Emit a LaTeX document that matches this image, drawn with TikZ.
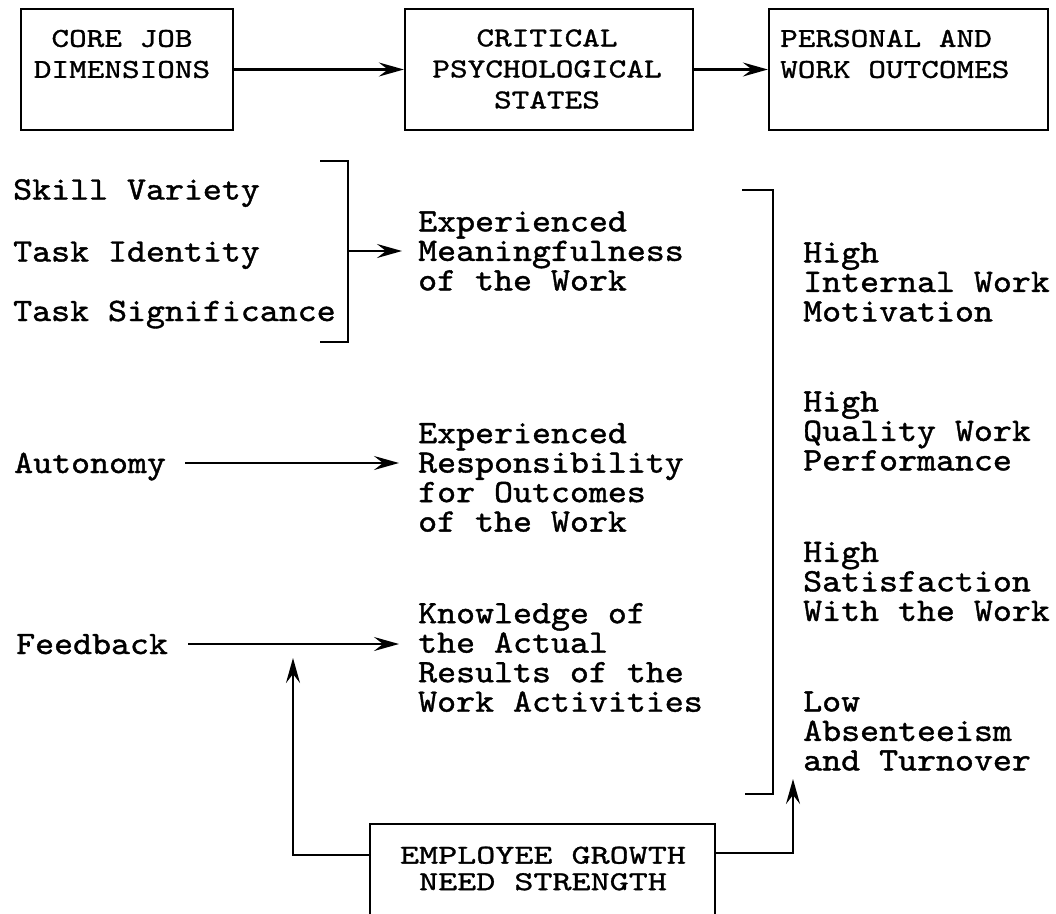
\documentclass[tikz,border=0pt]{standalone}
\usepackage{fontspec}
\usetikzlibrary{arrows.meta}
% typewriter faces, widened and darkened to a Courier-like set width and weight
\newfontfamily\txtfont{lmmono10-regular.otf}[FakeStretch=1.105,FakeBold=1.2]
\newfontfamily\capfont{lmmono10-regular.otf}[FakeStretch=1.23,FakeBold=1.1]
\newfontfamily\capfontw{lmmono10-regular.otf}[FakeStretch=1.33,FakeBold=1.1]

\tikzset{
  frame/.style={draw, line width=2.3pt, rectangle, inner sep=0pt},
  boxtxt/.style={inner sep=0pt, align=center,
    font=\capfont\fontsize{27.3pt}{31pt}\selectfont},
  boxtxtw/.style={inner sep=0pt, align=center,
    font=\capfontw\fontsize{27.3pt}{26.5pt}\selectfont},
  lefttxt/.style={inner sep=0pt, anchor=west, text height=20pt, text depth=0pt,
    font=\txtfont\fontsize{32.7pt}{29.5pt}\selectfont},
  coltxt/.style={inner sep=0pt, anchor=west, align=left,
    font=\txtfont\fontsize{32.7pt}{29.5pt}\selectfont},
  link/.style={line width=2.3pt},
  arr/.style={line width=2.3pt, -{Stealth[length=25pt,width=14pt,inset=9pt]}},
}

\begin{document}
\begin{tikzpicture}[x=1pt,y=-1pt]
\useasboundingbox (0,0) rectangle (1056,913);
\fill[white] (0,0) rectangle (1056,913);
\clip (0,0) rectangle (1056,913);

% top row of boxes
\node[frame, minimum width=212pt, minimum height=121pt] (core) at (127,69.5) {};
\node[frame, minimum width=288pt, minimum height=121pt] (cps) at (549,69.5) {};
\node[frame, minimum width=279pt, minimum height=121pt] (pwo) at (908.5,69.5) {};

\node[boxtxt] (coret) at (122,54) {CORE JOB\\DIMENSIONS};
\node[boxtxt] (cpst) at (547,69) {CRITICAL\\PSYCHOLOGICAL\\STATES};
\node[boxtxt, align=left, anchor=west] (pwot) at (780,54) {PERSONAL AND\\WORK OUTCOMES};

\draw[arr] (core.east) -- (cps.west);
\draw[arr] (cps.east) -- (pwo.west);

% core job dimensions
\node[lefttxt] (sv) at (13,189.5) {Skill Variety};
\node[lefttxt] (ti) at (13,251.5) {Task Identity};
\node[lefttxt] (ts) at (13,311) {Task Significance};
\node[lefttxt] (au) at (14,463) {Autonomy};
\node[lefttxt] (fb) at (16,644) {Feedback};

% bracket over the first three dimensions
\coordinate (b1t) at (320,161);
\coordinate (b1b) at (348,342);
\coordinate (b1m) at (348,251);
\draw[link] (b1t) -| (b1b) -- (320,342);

% critical psychological states
\node[coltxt] (emw) at (418,251) {Experienced\\Meaningfulness\\of the Work};
\node[coltxt] (ero) at (418,477.5) {Experienced\\Responsibility\\for Outcomes\\of the Work};
\node[coltxt] (kar) at (418,657.5) {Knowledge of\\the Actual\\Results of the\\Work Activities};

\draw[arr, shorten >=16pt] (b1m) -- (emw.west);
\draw[arr, shorten <=19pt, shorten >=19pt] (au.east) -- (au.east -| ero.west);
\draw[arr, shorten <=20pt, shorten >=19pt] (fb.east) -- (fb.east -| kar.west);

% personal and work outcomes
\node[coltxt] (hiwm) at (803,282) {High\\Internal Work\\Motivation};
\node[coltxt] (hqwp) at (803,431) {High\\Quality Work\\Performance};
\node[coltxt] (hsww) at (803,581.5) {High\\Satisfaction\\With the Work};
\node[coltxt] (lat) at (803,731) {Low\\Absenteeism\\and Turnover};

% bracket over the outcomes
\coordinate (b2t) at (742,190);
\coordinate (b2b) at (773,794);
\draw[link] (b2t) -| (b2b) -- (745,794);

% moderator box, open at the foot of the page
\node[frame, minimum width=345pt, minimum height=180pt] (egns) at (542.5,914) {};
\node[boxtxtw] (egnst) at (543,868.5) {EMPLOYEE GROWTH\\NEED STRENGTH};

\coordinate (fbup) at (293,658);
\coordinate (oup) at (793,779);
\draw[arr] ([yshift=-32pt]egns.north west) -| (fbup);
\draw[arr] ([yshift=-30pt]egns.north east) -| (oup);
\end{tikzpicture}
\end{document}
